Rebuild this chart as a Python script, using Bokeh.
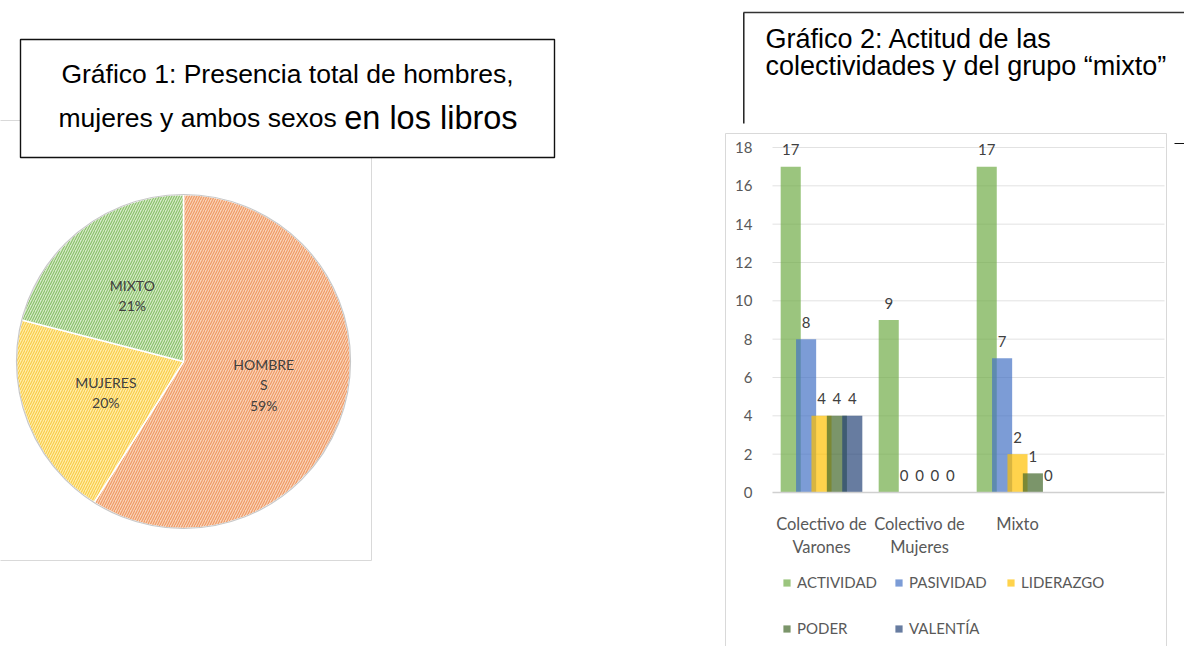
import numpy as np
from bokeh.plotting import figure
from bokeh.models import (Range1d, BoxAnnotation, Label, Legend, FixedTicker,
                          LegendItem, ColumnDataSource, LinearScale)
from bokeh.layouts import row
from bokeh.embed import file_html
from bokeh.resources import INLINE
from bokeh.core.properties import value

# ---------------- data ----------------
pie_categories = ["HOMBRES", "MUJERES", "MIXTO"]
pie_labels = ["HOMBRE\nS", "MUJERES", "MIXTO"]
pie_percent = [59, 20, 21]
pie_fill = ["#F9D2B9", "#FFEDAA", "#D6EAC9"]
pie_hatch = ["#EF9860", "#F8CB45", "#88BF66"]

bar_categories = ["Colectivo de Varones", "Colectivo de Mujeres", "Mixto"]
bar_tick_labels = ["Colectivo de\nVarones", "Colectivo de\nMujeres", "Mixto"]
series_names = ["ACTIVIDAD", "PASIVIDAD", "LIDERAZGO", "PODER", "VALENTÍA"]
actividad = [17, 9, 17]
pasividad = [8, 0, 7]
liderazgo = [4, 0, 2]
poder = [4, 0, 1]
valentia = [4, 0, 0]
series_colors = ["#70AD47", "#4472C4", "#FFC000", "#43682B", "#264478"]
y_ticks = [0, 2, 4, 6, 8, 10, 12, 14, 16, 18]

title1_line1 = "Gráfico 1: Presencia total de hombres,"
title1_line2a = "mujeres y ambos sexos "
title1_line2b = "en los libros"
title2_line1 = "Gráfico 2: Actitud de las"
title2_line2 = "colectividades y del grupo “mixto”"

H = 646
W1 = 720
W2 = 464

# ---------------- left: pie ----------------
left = figure(width=W1, height=H, x_range=Range1d(0, W1), y_range=Range1d(0, H),
              output_backend="svg", toolbar_location=None, min_border=0,
              x_axis_location=None, y_axis_location=None,
              outline_line_color=None, background_fill_color="white",
              border_fill_color="white")
left.grid.visible = False

# light chart frame
left.add_layout(BoxAnnotation(left=-10, right=371, top=526, bottom=86,
                              fill_alpha=0, line_color="#D9D9D9", line_alpha=1,
                              line_width=1))

frac = np.array(pie_percent, dtype=float) / sum(pie_percent)
cum = np.concatenate([[0.0], np.cumsum(frac)])
start = np.pi / 2 - 2 * np.pi * cum[:-1]
end = np.pi / 2 - 2 * np.pi * cum[1:]
mid = (start + end) / 2
cx, cy, rad = 183, 285, 167

pie_src = ColumnDataSource(dict(
    cat=pie_categories, start=start, end=end, fill=pie_fill, hatch=pie_hatch,
    lx=cx + 0.5 * rad * np.cos(mid), ly=cy + 0.5 * rad * np.sin(mid),
    txt=[f"{l}\n{p}%" for l, p in zip(pie_labels, pie_percent)]))

left.wedge(x=cx, y=cy, radius=rad, start_angle="start", end_angle="end",
           direction="clock", source=pie_src, fill_color="fill",
           hatch_pattern="right_diagonal_line", hatch_color="hatch",
           hatch_scale=5, hatch_weight=1.1,
           line_color="white", line_width=1.5)
left.scatter(x=[cx], y=[cy], size=2 * rad, fill_alpha=0, line_color="#C8C8C8",
             line_width=1.2)
left.text(x="lx", y="ly", text="txt", source=pie_src, text_align="center",
          text_baseline="middle", text_font=value("Lato"), text_font_size="14px",
          text_color="#404040", text_line_height=1.2)

# title box 1
left.add_layout(BoxAnnotation(left=20, right=554, top=607, bottom=489,
                              fill_color="white", fill_alpha=1,
                              line_color="#111111", line_alpha=1, line_width=1.4))
left.add_layout(Label(x=287, y=573, text=title1_line1, text_align="center",
                      text_baseline="alphabetic", text_font="Liberation Sans",
                      text_font_size="26.5px", text_color="black"))
left.add_layout(Label(x=58, y=529, text=title1_line2a, text_align="left",
                      text_baseline="alphabetic", text_font="Liberation Sans",
                      text_font_size="26.5px", text_color="black"))
left.add_layout(Label(x=343.7, y=529, text=title1_line2b, text_align="left",
                      text_baseline="alphabetic", text_font="Liberation Sans",
                      text_font_size="32.5px", text_color="black"))

# ---------------- right: bars ----------------
n_slots = len(bar_categories) + 1   # Excel leaves one empty category slot
# plot area inside the canvas: x 52..444, y(top) 147..492
px_x = 392.0 / n_slots
px_y = 345.0 / 18.0
x_rng = Range1d(-52 / px_x, n_slots + (W2 - 444) / px_x)
y_rng = Range1d(-(H - 492) / px_y, 18 + 147 / px_y)
right = figure(width=W2, height=H, x_range=x_rng, y_range=y_rng,
               output_backend="svg", toolbar_location=None, min_border=0,
               outline_line_color=None,
               background_fill_color="white", border_fill_color="white")
right.extra_x_ranges = {"px": Range1d(0, W2)}
right.extra_x_scales = {"px": LinearScale()}
right.extra_y_ranges = {"px": Range1d(H, 0)}
right.extra_y_scales = {"px": LinearScale()}

# light chart frame
right.add_layout(BoxAnnotation(left=5, right=446, top=133, bottom=700,
                               x_range_name="px", y_range_name="px",
                               fill_alpha=0, line_color="#D9D9D9", line_alpha=1,
                               line_width=1))

right.grid.visible = False
right.segment(x0=0, x1=n_slots, y0=y_ticks[1:], y1=y_ticks[1:],
              line_color="#E2E2E2", line_width=1)

right.yaxis.fixed_location = 0
right.yaxis.ticker = FixedTicker(ticks=y_ticks)
right.yaxis.axis_line_color = None
right.yaxis.major_tick_line_color = None
right.yaxis.minor_tick_line_color = None
right.yaxis.major_label_standoff = 14
right.yaxis.major_label_text_font = "Lato"
right.yaxis.major_label_text_font_size = "15px"
right.yaxis.major_label_text_color = "#595959"

cat_centers = [i + 0.5 for i in range(len(bar_categories))]
right.xaxis.fixed_location = 0
right.xaxis.bounds = (0, n_slots)
right.xaxis.ticker = FixedTicker(ticks=cat_centers)
right.xaxis.major_label_overrides = {c: t for c, t in zip(cat_centers, bar_tick_labels)}
right.xaxis.axis_line_color = "#D0D0D0"
right.xaxis.axis_line_width = 1.5
right.xaxis.major_tick_line_color = None
right.xaxis.minor_tick_line_color = None
right.xaxis.major_label_standoff = 15
right.xaxis.major_label_text_font = "Lato"
right.xaxis.major_label_text_font_size = "16.5px"
right.xaxis.major_label_text_color = "#595959"
right.xaxis.major_label_text_line_height = 1.15

keys = ["actividad", "pasividad", "liderazgo", "poder", "valentia"]
series = [actividad, pasividad, liderazgo, poder, valentia]
step = 0.157
bw = 0.205
data = dict(cat=bar_categories)
for i, (k, s) in enumerate(zip(keys, series)):
    data[k] = s
    data[k + "_lbl"] = [str(v) for v in s]
    data[k + "_x"] = [c + (i - 2) * step for c in cat_centers]
bar_src = ColumnDataSource(data)

renderers = []
for k, c in zip(keys, series_colors):
    r = right.vbar(x=k + "_x", top=k, width=bw, source=bar_src,
                   fill_color=c, fill_alpha=0.7, line_color=None)
    renderers.append(r)
for k in keys:
    right.text(x=k + "_x", y=k, text=k + "_lbl", source=bar_src,
               text_align="center", text_baseline="alphabetic",
               y_offset=-17, text_font=value("Lato"), text_font_size="15px",
               text_color="#404040")

items = [LegendItem(label=n, renderers=[r]) for n, r in zip(series_names, renderers)]
for its, vy in ((items[:3], 55), (items[3:], 9)):
    leg = Legend(items=its, location=(62, vy), orientation="horizontal",
                 glyph_width=9, glyph_height=9, label_height=18, label_width=86,
                 label_standoff=6, spacing=11, padding=0, margin=0,
                 border_line_color=None, background_fill_alpha=0,
                 label_text_font="Lato", label_text_font_size="15px",
                 label_text_color="#595959")
    right.add_layout(leg, "center")

# title box 2 (pixel coordinates via extra ranges)
right.add_layout(BoxAnnotation(left=22.6, right=24, top=12, bottom=123,
                               x_range_name="px", y_range_name="px",
                               fill_color="#111111", fill_alpha=1, line_color=None))
right.add_layout(BoxAnnotation(left=23, right=480, top=11.3, bottom=12.7,
                               x_range_name="px", y_range_name="px",
                               fill_color="#333333", fill_alpha=1, line_color=None))
right.add_layout(BoxAnnotation(left=454, right=480, top=142.5, bottom=143.6,
                               x_range_name="px", y_range_name="px",
                               fill_color="#111111", fill_alpha=1, line_color=None))
right.add_layout(Label(x=45, y=38, x_range_name="px", y_range_name="px",
                       text=title2_line1, text_align="left", text_baseline="alphabetic",
                       text_font="Liberation Sans", text_font_size="27px",
                       text_color="black"))
right.add_layout(Label(x=45, y=65, x_range_name="px", y_range_name="px",
                       text=title2_line2, text_align="left", text_baseline="alphabetic",
                       text_font="Liberation Sans", text_font_size="27px",
                       text_color="black"))

layout = row(left, right)
open("out.html", "w").write(file_html(layout, INLINE))
